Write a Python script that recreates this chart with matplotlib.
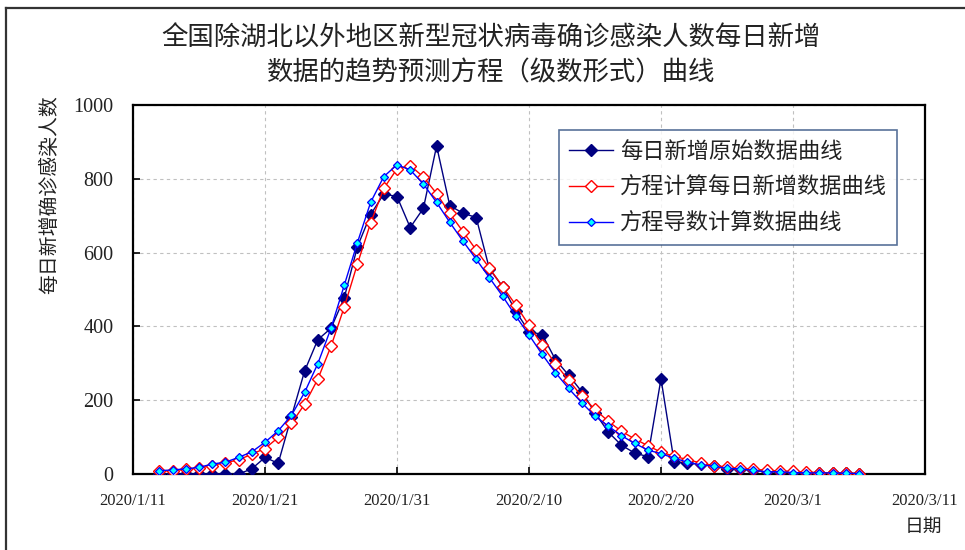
import numpy as np
import pandas as pd
import matplotlib
matplotlib.use("Agg")
import matplotlib.pyplot as plt
from matplotlib.lines import Line2D

plt.rcParams['font.family'] = ['Noto Sans CJK SC', 'DejaVu Sans']

# =========================
# DATA
# =========================

dates = pd.date_range("2020-01-13", "2020-03-06", freq="D")

raw_daily = [0, 0, 0, 0, 0, 0, 0, 14, 45, 29, 155, 279, 364, 395, 477, 616, 703, 759, 752,
             668, 720, 889, 727, 707, 695, 556, 508, 441, 386, 378, 310, 268, 223, 166, 114,
             78, 57, 47, 258, 32, 30, 26, 21, 14, 13, 10, 7, 6,
             5, 4, 3, 3, 2, 1]

fit_daily = [7, 9, 13, 16, 23, 31, 38, 54, 69, 99, 137, 189, 257, 346, 452, 569, 680, 774, 827,
             836, 805, 760, 706, 657, 607, 558, 508, 458, 403, 349, 299, 254, 211, 175, 143,
             116, 95, 77, 59, 48, 39, 30, 23, 19, 15, 13, 10, 8,
             7, 5, 4, 3, 3, 1]

deriv_daily = [9, 11, 14, 18, 27, 32, 45, 60, 86, 117, 159, 221, 299, 395, 511, 627, 736, 806, 838,
               824, 786, 736, 682, 631, 582, 532, 482, 428, 377, 324, 275, 232, 193, 157, 130,
               104, 83, 65, 55, 43, 32, 25, 21, 15, 14, 10, 6, 6,
               4, 3, 3, 3, 2, 1]

tick_dates = pd.to_datetime(["2020-01-11", "2020-01-21", "2020-01-31", "2020-02-10",
                             "2020-02-20", "2020-03-01", "2020-03-11"])
tick_labels = ["2020/1/11", "2020/1/21", "2020/1/31", "2020/2/10",
               "2020/2/20", "2020/3/1", "2020/3/11"]

labels = ["每日新增原始数据曲线", "方程计算每日新增数据曲线", "方程导数计算数据曲线"]

# =========================
# PLOT
# =========================

fig = plt.figure(figsize=(9.65, 5.5), dpi=100)
ax = fig.add_axes([133 / 965, 76 / 550, 792 / 965, 369 / 550])

ax.plot(dates, raw_daily, color="#000080", lw=1.0, marker="D", ms=6,
        mfc="#000080", mec="#000080", label=labels[0], zorder=3)
ax.plot(dates, fit_daily, color="#ff0000", lw=1.0, marker="D", ms=6,
        mfc="white", mec="#ff0000", mew=1.0, label=labels[1], zorder=4)
ax.plot(dates, deriv_daily, color="#0000ff", lw=1.0, marker="D", ms=4.5,
        mfc="#00ffff", mec="#0000ff", mew=0.9, label=labels[2], zorder=5)

ax.set_xlim(tick_dates[0], tick_dates[-1])
ax.set_ylim(0, 1000)
ax.set_xticks(tick_dates)
ax.set_xticklabels(tick_labels, family="Liberation Serif", fontsize=12, color="#222222")
ax.set_yticks(np.arange(0, 1001, 200))
ax.set_yticklabels([str(v) for v in range(0, 1001, 200)],
                   family="Liberation Serif", fontsize=14.5, color="#222222")
ax.tick_params(direction="in", length=5, width=1.2, pad=14)

ax.grid(True, color="#c0c0c0", linestyle=(0, (3, 3)), linewidth=0.8)
ax.set_axisbelow(True)
for sp in ax.spines.values():
    sp.set_linewidth(1.6)
    sp.set_color("black")

leg = ax.legend(loc="upper right", bbox_to_anchor=(897 / 965, 420 / 550),
                bbox_transform=fig.transFigure, fontsize=16, frameon=True,
                fancybox=False, edgecolor="#2f4f80", handlelength=2.0,
                labelspacing=0.58, borderpad=0.45, handletextpad=0.3,
                borderaxespad=0)
leg.get_frame().set_linewidth(1.2)
for t in leg.get_texts():
    t.set_color("#222222")

fig.text(491 / 965, 1 - 38 / 550, "全国除湖北以外地区新型冠状病毒确诊感染人数每日新增",
         ha="center", va="center", fontsize=19, color="#222222")
fig.text(491 / 965, 1 - 73 / 550, "数据的趋势预测方程（级数形式）曲线",
         ha="center", va="center", fontsize=19, color="#222222")
fig.text(50 / 965, 1 - 195 / 550, "每日新增确诊感染人数", rotation=90,
         ha="center", va="center", fontsize=14.3, color="#222222")
fig.text(923 / 965, 1 - 526 / 550, "日期", ha="center", va="center",
         fontsize=13.5, color="#222222")

# figure border (right and bottom edges fall outside the image)
fig.add_artist(Line2D([6 / 965, 6 / 965], [0, 1 - 8 / 550], transform=fig.transFigure,
                      color="#333333", lw=1.6))
fig.add_artist(Line2D([6 / 965, 1], [1 - 8 / 550, 1 - 8 / 550], transform=fig.transFigure,
                      color="#333333", lw=1.6))

fig.savefig("out.png", dpi=100)
